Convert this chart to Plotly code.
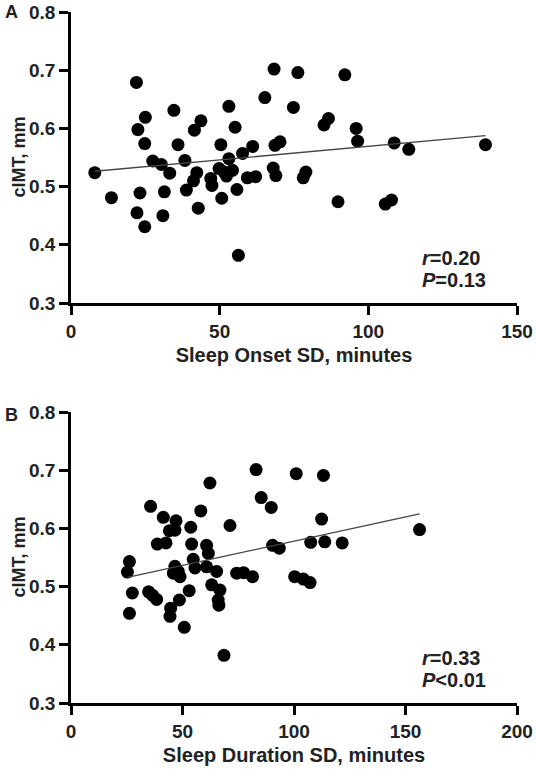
import numpy as np
import plotly.graph_objects as go

# Panel A: Sleep Onset SD (minutes) vs cIMT (mm)
onset_sd = [8.0, 13.6, 22.0, 25.0, 22.5, 24.8, 27.5, 30.4, 33.2, 23.2, 31.4, 22.2, 30.9, 24.8,
            34.6, 36.0, 38.3, 43.7, 41.5, 42.3, 41.2, 38.8, 42.8, 47.0, 47.4, 50.4, 53.1, 55.2,
            53.1, 49.8, 51.5, 54.3, 52.3, 50.7, 55.8, 56.3, 57.7, 61.1, 59.3, 62.1, 65.2, 68.3,
            68.6, 70.3, 68.0, 68.9, 74.8, 76.3, 92.1, 86.6, 85.1, 95.9, 96.4, 108.7, 113.6, 139.4,
            79.0, 78.1, 89.8, 107.8, 105.7]
onset_cimt = [0.524, 0.481, 0.679, 0.619, 0.598, 0.574, 0.544, 0.538, 0.523, 0.489, 0.491, 0.455,
              0.450, 0.431, 0.631, 0.572, 0.545, 0.613, 0.597, 0.524, 0.510, 0.494, 0.463, 0.514,
              0.502, 0.572, 0.638, 0.602, 0.548, 0.531, 0.525, 0.528, 0.518, 0.480, 0.495, 0.382,
              0.557, 0.569, 0.515, 0.517, 0.653, 0.702, 0.571, 0.577, 0.532, 0.519, 0.636, 0.696,
              0.692, 0.617, 0.606, 0.600, 0.578, 0.575, 0.564, 0.572, 0.525, 0.515, 0.474, 0.477,
              0.470]

# Panel B: Sleep Duration SD (minutes) vs cIMT (mm)
duration_sd = [26.2, 25.3, 27.5, 26.2, 35.7, 41.4, 47.1, 44.1, 46.6, 38.7, 42.6, 34.8, 36.6, 38.4,
               46.6, 48.1, 45.9, 48.9, 53.0, 48.6, 44.7, 44.4, 50.8, 53.7, 58.2, 62.3, 54.1, 54.8,
               55.6, 60.8, 61.6, 60.8, 65.3, 63.1, 66.8, 66.0, 66.3, 68.6, 71.3, 74.3, 77.4, 81.4,
               83.0, 85.3, 89.8, 90.4, 93.4, 100.3, 101.0, 113.2, 112.4, 107.5, 113.8, 121.6, 104.2,
               107.2, 156.3]
duration_cimt = [0.543, 0.525, 0.489, 0.454, 0.638, 0.619, 0.613, 0.596, 0.597, 0.573, 0.575, 0.491,
                 0.485, 0.478, 0.535, 0.526, 0.523, 0.517, 0.493, 0.477, 0.463, 0.449, 0.430, 0.602,
                 0.630, 0.678, 0.573, 0.547, 0.532, 0.571, 0.557, 0.534, 0.526, 0.503, 0.494, 0.477,
                 0.468, 0.382, 0.605, 0.523, 0.524, 0.517, 0.701, 0.653, 0.636, 0.571, 0.566, 0.517,
                 0.694, 0.691, 0.616, 0.576, 0.577, 0.575, 0.513, 0.507, 0.598]

stats_a = ["<i>r</i>=0.20", "<i>P</i>=0.13"]
stats_b = ["<i>r</i>=0.33", "<i>P</i><0.01"]
x_title_a = "Sleep Onset SD, minutes"
x_title_b = "Sleep Duration SD, minutes"
y_title = "cIMT, mm"

FONT = "Liberation Sans, Arial, sans-serif"

def fit_line(x, y):
    x = np.asarray(x); y = np.asarray(y)
    m, b = np.polyfit(x, y, 1)
    xs = np.array([x.min(), x.max()])
    return xs, m * xs + b

fig = go.Figure()
for (xv, yv, xa, ya) in [(onset_sd, onset_cimt, "x", "y"), (duration_sd, duration_cimt, "x2", "y2")]:
    lx, ly = fit_line(xv, yv)
    fig.add_trace(go.Scatter(x=xv, y=yv, mode="markers", xaxis=xa, yaxis=ya,
                             marker=dict(size=13, color="black", line=dict(width=0)),
                             showlegend=False, hoverinfo="x+y"))
    fig.add_trace(go.Scatter(x=lx, y=ly, mode="lines", xaxis=xa, yaxis=ya,
                             line=dict(color="#444444", width=1.3),
                             showlegend=False, hoverinfo="skip"))

W, H = 536, 772
xdom = [71 / W, 517 / W]
ydom_a = [1 - 303 / H, 1 - 12 / H]
ydom_b = [1 - 703 / H, 1 - 412 / H]

tick_font = dict(family=FONT, size=19, color="#222", weight="bold")
axis_common = dict(showline=True, linecolor="black", linewidth=2.5, ticks="outside",
                   ticklen=9, tickwidth=2.5, tickcolor="black", showgrid=False, zeroline=False,
                   automargin=False, tickfont=tick_font)
xtitle_font = dict(family=FONT, size=20, color="#222", weight="bold")
ytitle_font = dict(family=FONT, size=18, color="#222", weight="bold")

fig.update_layout(
    width=W, height=H, margin=dict(l=0, r=0, t=0, b=0),
    plot_bgcolor="white", paper_bgcolor="white",
    xaxis=dict(domain=xdom, range=[0, 150], tickvals=[0, 50, 100, 150], anchor="y",
               title=dict(text=x_title_a, font=xtitle_font, standoff=8), **axis_common),
    yaxis=dict(domain=ydom_a, range=[0.3, 0.8], dtick=0.1, tickformat=".1f", anchor="x",
               **axis_common),
    xaxis2=dict(domain=xdom, range=[0, 200], tickvals=[0, 50, 100, 150, 200], anchor="y2",
                title=dict(text=x_title_b, font=xtitle_font, standoff=8), **axis_common),
    yaxis2=dict(domain=ydom_b, range=[0.3, 0.8], dtick=0.1, tickformat=".1f", anchor="x2",
                **axis_common),
)

# y-axis titles (rotated), centred on each panel's plot area
for dom in (ydom_a, ydom_b):
    fig.add_annotation(text=y_title, x=18 / W, y=(dom[0] + dom[1]) / 2, xref="paper", yref="paper",
                       textangle=-90, showarrow=False, xanchor="center", yanchor="middle",
                       font=ytitle_font)

ann_font = dict(family=FONT, size=20, color="#222", weight="bold")
for lbl, ytop in [("A", 12.5), ("B", 415)]:
    fig.add_annotation(text=lbl, x=11 / W, y=1 - ytop / H, xref="paper", yref="paper",
                       showarrow=False, xanchor="center", yanchor="middle",
                       font=dict(family=FONT, size=18, color="#222", weight="bold"))
for lines, ys in [(stats_a, (258, 280)), (stats_b, (658, 680))]:
    for t, yc in zip(lines, ys):
        fig.add_annotation(text=t, x=420 / W, y=1 - yc / H, xref="paper", yref="paper",
                           showarrow=False, xanchor="left", yanchor="middle", font=ann_font)

fig.write_html("out.html", config={"displayModeBar": False},
               post_script="document.body.style.margin='0px';document.body.style.overflow='hidden';")
